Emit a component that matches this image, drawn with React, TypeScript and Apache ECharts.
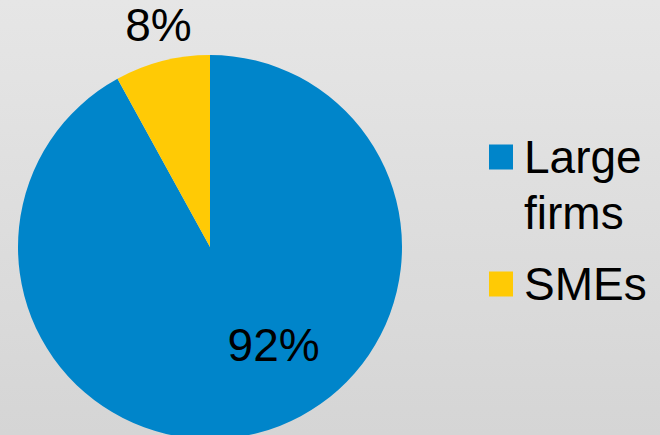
import React, { useEffect, useRef } from "react";
import * as echarts from "echarts";

const categories = ["Large firms", "SMEs"];
const shares = [92, 8];
const colors = ["#0085ca", "#ffca05"];
const labelOffsets: [number, number][] = [[39, 2], [-27, -126]];

export default function App() {
  const ref = useRef<HTMLDivElement>(null);
  useEffect(() => {
    if (!ref.current) return;
    const chart = echarts.init(ref.current, null, { renderer: "svg" });
    const font = "'Liberation Sans', Arial, sans-serif";
    chart.setOption({
      animation: false,
      backgroundColor: {
        type: "linear", x: 0, y: 0, x2: 0, y2: 1,
        colorStops: [
          { offset: 0, color: "#e6e6e6" },
          { offset: 1, color: "#d5d5d5" },
        ],
      },
      legend: {
        orient: "vertical",
        left: 484,
        top: 68,
        icon: "rect",
        itemWidth: 24,
        itemHeight: 25,
        itemGap: 15,
        selectedMode: false,
        data: categories,
        formatter: (name: string) =>
          name.indexOf(" ") >= 0 ? "\n" + name.replace(" ", "\n") : name,
        textStyle: {
          fontFamily: font,
          fontSize: 46,
          lineHeight: 56,
          color: "#000",
          padding: [0, 0, 0, 6],
        },
      },
      series: [
        {
          type: "pie",
          center: [210, 247],
          radius: 192,
          startAngle: 90,
          clockwise: true,
          silent: true,
          emphasis: { disabled: true },
          labelLine: { show: false },
          data: categories.map((name, i) => ({
            name,
            value: shares[i],
            itemStyle: { color: colors[i] },
            label: {
              show: true,
              position: "inside",
              offset: labelOffsets[i],
              formatter: "{c}%",
              fontFamily: font,
              fontSize: 46,
              color: "#000",
            },
          })),
        },
      ],
    });
    return () => chart.dispose();
  }, []);
  return (
    <div
      ref={ref}
      style={{ position: "fixed", left: 0, top: 0, width: 660, height: 435 }}
    />
  );
}
